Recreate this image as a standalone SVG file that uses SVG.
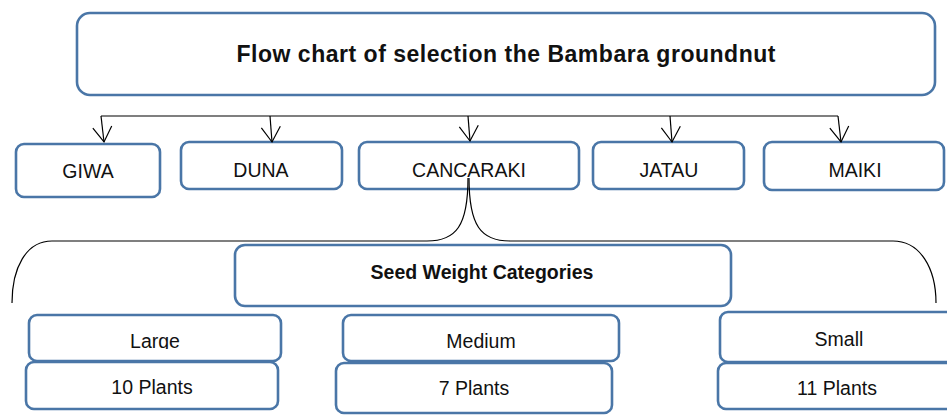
<svg xmlns="http://www.w3.org/2000/svg" width="947" height="419" viewBox="0 0 947 419">
<style>
.box{fill:#fff;stroke:#4a76a7;stroke-width:2.6}
.t{font-family:"Liberation Sans",Arial,sans-serif;font-size:19.5px;fill:#111;text-anchor:middle}
.b{font-weight:bold}
.h{font-size:23px}
.c{fill:none;stroke:#000;stroke-width:1.2}
</style>
<defs>
<marker id="v" markerUnits="userSpaceOnUse" markerWidth="20" markerHeight="20" viewBox="-16 -10 17 20" refX="0" refY="0" orient="auto" overflow="visible">
<path d="M-15,-9.5 L0,0 L-15,9.5" fill="none" stroke="#000" stroke-width="1.2"/>
</marker>
<clipPath id="clipLarge"><rect x="29" y="315" width="252" height="34"/></clipPath>
</defs>
<rect width="947" height="419" fill="#fff"/>
<g id="title"><rect class="box" x="77" y="13" width="858" height="82" rx="13"/><text class="t b h" x="506" y="62" textLength="539" lengthAdjust="spacing">Flow chart of selection the Bambara groundnut</text></g>
<g id="giwa"><rect class="box" x="16" y="144" width="144" height="53" rx="8"/><text class="t" x="88" y="178">GIWA</text></g>
<g id="duna"><rect class="box" x="181" y="142" width="161" height="47" rx="8"/><text class="t" x="261" y="177">DUNA</text></g>
<g id="cancaraki"><rect class="box" x="359" y="142" width="220" height="47" rx="8"/><text class="t" x="469" y="177">CANCARAKI</text></g>
<g id="jatau"><rect class="box" x="593" y="142" width="151" height="47" rx="8"/><text class="t" x="669" y="177">JATAU</text></g>
<g id="maiki"><rect class="box" x="764" y="142" width="180" height="48" rx="8"/><text class="t" x="855" y="177">MAIKI</text></g>
<g id="seed"><rect class="box" x="235" y="245" width="496" height="61" rx="10"/><text class="t b" x="482" y="279">Seed Weight Categories</text></g>
<g id="large"><rect class="box" x="29" y="315" width="252" height="46" rx="8"/><text class="t" x="155" y="348" clip-path="url(#clipLarge)">Large</text></g>
<g id="plants10"><rect class="box" x="26" y="362" width="252" height="47" rx="8"/><text class="t" x="152" y="394">10 Plants</text></g>
<g id="medium"><rect class="box" x="343" y="315" width="276" height="46" rx="8"/><text class="t" x="481" y="348">Medium</text></g>
<g id="plants7"><rect class="box" x="336" y="363" width="276" height="50" rx="8"/><text class="t" x="474" y="395">7 Plants</text></g>
<g id="small"><rect class="box" x="720" y="312" width="240" height="50" rx="8"/><text class="t" x="839" y="346">Small</text></g>
<g id="plants11"><rect class="box" x="718" y="363" width="240" height="46" rx="8"/><text class="t" x="837" y="395">11 Plants</text></g>
<g id="connectors">
<path class="c" d="M101,116 H838"/>
<path class="c" d="M101,116 L104,142" marker-end="url(#v)"/>
<path class="c" d="M270,116 L272,142" marker-end="url(#v)"/>
<path class="c" d="M468,116 L470,141" marker-end="url(#v)"/>
<path class="c" d="M670,116 L672,142" marker-end="url(#v)"/>
<path class="c" d="M838,116 L841,142" marker-end="url(#v)"/>
<path class="c" d="M468,178 C468,226 456,241 427,241 L52,241 C26,241 12,268 12,303"/>
<path class="c" d="M469,178 C469,226 481,241 510,241 L893,241 C920,241 936,268 936,303"/>
</g>
</svg>
